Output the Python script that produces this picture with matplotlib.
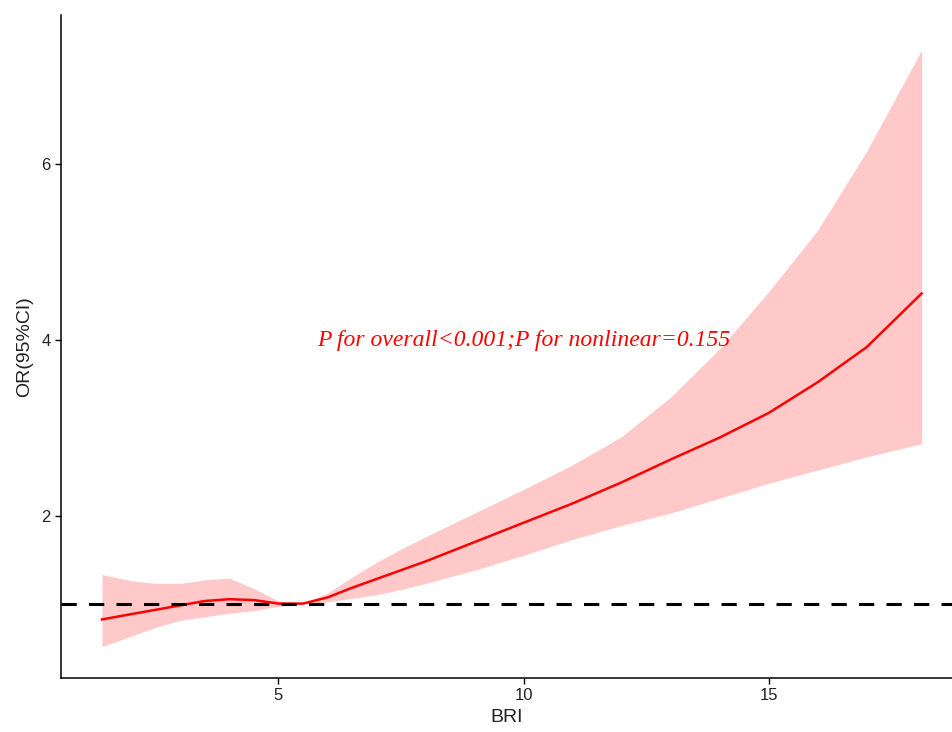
import numpy as np
import matplotlib
matplotlib.use("Agg")
import matplotlib.pyplot as plt

# values
bri = [1.4, 2.0, 2.5, 3.0, 3.5, 4.0, 4.5, 5.0, 5.5, 6.0, 6.5, 7.0, 7.5, 8.0,
       9.0, 10.0, 11.0, 12.0, 13.0, 14.0, 15.0, 16.0, 17.0, 18.12]
odds = [0.82, 0.88, 0.93, 0.98, 1.03, 1.05, 1.04, 1.00, 1.00, 1.07, 1.18, 1.28,
        1.38, 1.48, 1.70, 1.92, 2.14, 2.38, 2.64, 2.89, 3.17, 3.52, 3.92, 4.53]
upper = [1.33, 1.26, 1.23, 1.23, 1.27, 1.29, 1.17, 1.03, 1.00, 1.12, 1.30, 1.47,
         1.62, 1.76, 2.03, 2.30, 2.58, 2.90, 3.35, 3.90, 4.55, 5.25, 6.15, 7.30]
lower = [0.51, 0.63, 0.73, 0.81, 0.85, 0.89, 0.92, 0.97, 1.00, 1.02, 1.06, 1.10,
         1.16, 1.23, 1.38, 1.55, 1.73, 1.89, 2.03, 2.20, 2.37, 2.52, 2.67, 2.82]
x_ticks = [5, 10, 15]
y_ticks = [2, 4, 6]
note = "P for overall<0.001;P for nonlinear=0.155"

plt.rcParams['font.family'] = ['Liberation Sans', 'DejaVu Sans']

W, H = 953, 732
fig = plt.figure(figsize=(W / 100, H / 100), dpi=100)
ax = fig.add_axes([61 / W, (H - 678) / H, (W - 61) / W, (678 - 15) / H])

ax.fill_between(bri, lower, upper, color='#ffc9c9', linewidth=0)
ax.plot(bri, odds, color='#ff0000', lw=1.8)
ax.axhline(1, color='black', lw=2.2, ls=(0, (5, 4)))

ax.text(10, 4, note, color='#ff0000', fontsize=17, style='italic',
        family=['Liberation Serif', 'DejaVu Serif'], ha='center', va='center')

ax.set_xlim(0.564, 18.76)
ax.set_ylim(0.153, 7.70)
ax.set_xticks(x_ticks)
ax.set_yticks(y_ticks)
ax.tick_params(labelsize=12, length=4, width=1, colors='black', labelcolor='#222222')
ax.set_xlabel("BRI", fontsize=14, color='#222222', labelpad=4)
ax.set_ylabel("OR(95%CI)", fontsize=14, color='#222222', labelpad=6)

for side in ['top', 'right']:
    ax.spines[side].set_visible(False)
for side in ['left', 'bottom']:
    ax.spines[side].set_linewidth(1.1)

fig.savefig("out.png", dpi=100)
